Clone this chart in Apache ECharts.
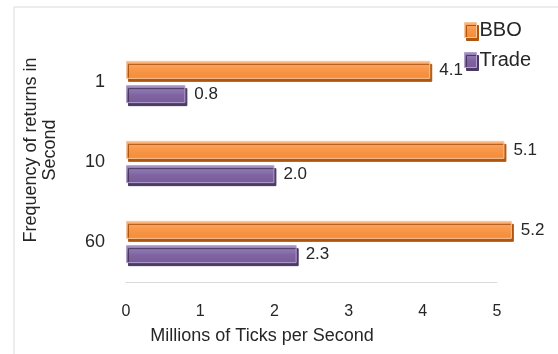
<!DOCTYPE html>
<html>
<head>
<meta charset="utf-8">
<script src="https://cdn.jsdelivr.net/npm/echarts@6/dist/echarts.min.js"></script>
<style>
  html, body { margin: 0; padding: 0; background: #fff; }
  #chart { width: 558px; height: 354px; }
</style>
</head>
<body>
<div id="chart"></div>
<script>
// Sampling frequency (returns per second) on the category axis
const categories = ['1', '10', '60'];
// Millions of ticks per second for each feed
const bboValues = [4.1, 5.1, 5.2];
const tradeValues = [0.8, 2.0, 2.3];
const xTicks = [0, 1, 2, 3, 4, 5];

const FONT = '"Liberation Sans", Arial, sans-serif';
const chart = echarts.init(document.getElementById('chart'), null, { renderer: 'canvas' });

function grad(c0, c1, c2, c3) {
  return new echarts.graphic.LinearGradient(0, 0, 0, 1, [
    { offset: 0, color: c0 },
    { offset: 0.2, color: c1 },
    { offset: 0.55, color: c2 },
    { offset: 1, color: c3 }
  ]);
}

const bboStyle = {
  color: grad('#FBC190', '#F8A363', '#F79646', '#F48B38'),
  borderColor: '#FAC69B',
  borderWidth: 1,
  shadowColor: '#B0560F',
  shadowOffsetX: 2,
  shadowOffsetY: 3,
  shadowBlur: 0
};
const tradeStyle = {
  color: grad('#AE9AC8', '#937BB4', '#8064A2', '#785C9A'),
  borderColor: '#B3A2CB',
  borderWidth: 1,
  shadowColor: '#4A3865',
  shadowOffsetX: 2,
  shadowOffsetY: 3,
  shadowBlur: 0
};

const labelStyle = {
  show: true,
  position: 'right',
  distance: 9,
  color: '#262626',
  fontFamily: FONT,
  fontSize: 17,
  formatter: p => p.value.toFixed(1)
};

chart.setOption({
  animation: false,
  backgroundColor: '#fff',
  grid: { left: 126, right: 61, top: 42, bottom: 72, containLabel: false },
  legend: {
    orient: 'vertical',
    left: 464,
    top: 20,
    padding: 0,
    itemWidth: 12,
    itemHeight: 15,
    itemGap: 10,
    icon: 'rect',
    textStyle: { fontFamily: FONT, fontSize: 20, color: '#262626', padding: [0, 0, 0, -2] },
    data: [
      { name: 'BBO', itemStyle: bboStyle },
      { name: 'Trade', itemStyle: tradeStyle }
    ]
  },
  xAxis: {
    type: 'value',
    min: xTicks[0],
    max: xTicks[xTicks.length - 1],
    interval: 1,
    axisLine: { show: true, lineStyle: { color: '#D9D9D9', width: 1 } },
    axisTick: { show: false },
    splitLine: { show: false },
    axisLabel: { margin: 22, color: '#262626', fontFamily: FONT, fontSize: 16 }
  },
  yAxis: {
    type: 'category',
    inverse: true,
    data: categories,
    axisLine: { show: false },
    axisTick: { show: false },
    axisLabel: { margin: 21, color: '#262626', fontFamily: FONT, fontSize: 18 }
  },
  series: [
    {
      name: 'BBO',
      type: 'bar',
      data: bboValues,
      barWidth: 18,
      barGap: '35%',
      clip: false,
      itemStyle: bboStyle,
      label: labelStyle
    },
    {
      name: 'Trade',
      type: 'bar',
      data: tradeValues,
      barWidth: 18,
      barGap: '35%',
      clip: false,
      itemStyle: tradeStyle,
      label: labelStyle
    }
  ],
  graphic: [
    {
      type: 'rect',
      z: -10,
      silent: true,
      shape: { x: 14, y: 7, width: 700, height: 500 },
      style: { fill: 'none', stroke: '#D9D9D9', lineWidth: 1 }
    },
    {
      type: 'text',
      x: 41,
      y: 150,
      rotation: Math.PI / 2,
      style: {
        text: 'Frequency of returns in\nSecond',
        font: '18px ' + FONT,
        fill: '#262626',
        textAlign: 'center',
        textVerticalAlign: 'middle',
        lineHeight: 19
      }
    },
    {
      type: 'text',
      x: 262,
      y: 336,
      style: {
        text: 'Millions of Ticks per Second',
        font: '18px ' + FONT,
        fill: '#262626',
        textAlign: 'center',
        textVerticalAlign: 'middle'
      }
    }
  ]
});
</script>
</body>
</html>
